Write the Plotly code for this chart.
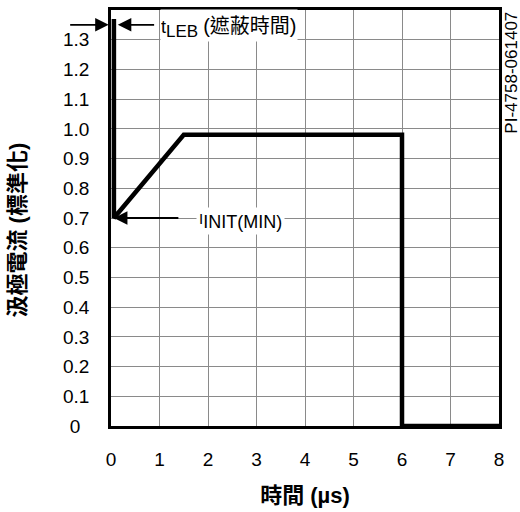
import plotly.graph_objects as go

# Data
time_us = [0.06, 0.06, 1.5, 6.0, 6.0, 8.0]
current_norm = [1.37, 0.70, 0.98, 0.98, 0.0, 0.0]

x_ticks = [0, 1, 2, 3, 4, 5, 6, 7, 8]
y_ticks = [0, 0.1, 0.2, 0.3, 0.4, 0.5, 0.6, 0.7, 0.8, 0.9, 1.0, 1.1, 1.2, 1.3]
y_tick_text = ["0\u00a0\u2009", "0.1", "0.2", "0.3", "0.4", "0.5", "0.6", "0.7", "0.8",
               "0.9", "1.0", "1.1", "1.2", "1.3"]

FONT = "Liberation Sans, Arial, Noto Sans CJK TC, sans-serif"
CJK = "Liberation Sans, Noto Sans CJK TC, sans-serif"

fig = go.Figure()
fig.add_trace(go.Scatter(x=time_us, y=current_norm, mode="lines",
                         line=dict(color="black", width=4.5),
                         hoverinfo="skip", showlegend=False, cliponaxis=False))

fig.update_layout(
    width=520, height=512,
    margin=dict(l=111, r=21, t=7, b=85),
    paper_bgcolor="white", plot_bgcolor="white",
    font=dict(family=FONT, color="black", size=19),
    xaxis=dict(range=[0, 8], tickvals=x_ticks, ticktext=[str(v) for v in x_ticks],
               showgrid=True, gridcolor="#8a8a8a", gridwidth=1,
               showline=True, linecolor="black", linewidth=2.5, mirror=True,
               ticks="", zeroline=False, ticklabelstandoff=14,
               tickfont=dict(size=19),
               title=dict(text="<b>時間 (µs)</b>", font=dict(family=CJK, size=22), standoff=20)),
    yaxis=dict(range=[0, 1.4], tickvals=y_ticks, ticktext=y_tick_text,
               showgrid=True, gridcolor="#8a8a8a", gridwidth=1,
               showline=True, linecolor="black", linewidth=2.5, mirror=True,
               ticks="", zeroline=False, ticklabelstandoff=15,
               tickfont=dict(size=19)),
)

# y title
fig.add_annotation(text="<b>汲極電流 (標準化)</b>", xref="paper", yref="paper",
                   x=-0.24, y=0.472, textangle=-90, showarrow=False,
                   xanchor="center", yanchor="middle",
                   font=dict(family=CJK, size=22))

# right side id text
fig.add_annotation(text="PI-4758-061407", xref="paper", yref="paper",
                   x=1.03, y=1.0, textangle=-90, showarrow=False,
                   xanchor="center", yanchor="top", font=dict(size=17))

# arrows for tLEB
fig.add_annotation(x=-0.006, y=1.35 / 1.4, ax=-40, ay=0,
                   xref="paper", yref="paper", text="", showarrow=True,
                   arrowhead=2, arrowsize=1.5, arrowwidth=1.8, arrowcolor="black")
fig.add_annotation(x=0.14, y=1.35, ax=0.92, ay=1.35, axref="x", ayref="y",
                   xref="x", yref="y", text="", showarrow=True,
                   arrowhead=2, arrowsize=1.5, arrowwidth=1.8, arrowcolor="black")
fig.add_annotation(x=1.0, y=1.348, xref="x", yref="y", showarrow=False,
                   xanchor="left", yanchor="middle", height=31, valign="bottom",
                   text="t<sub><span style='font-size:17px'>LEB</span></sub> "
                        "<span style='font-size:20px'>(遮蔽時間)</span>",
                   font=dict(family=CJK, size=18), bgcolor="white", borderpad=0)

# arrow for IINIT(MIN)
fig.add_annotation(x=0.06, y=0.70, ax=1.42, ay=0.70, axref="x", ayref="y",
                   xref="x", yref="y", text="", showarrow=True,
                   arrowhead=2, arrowsize=1.5, arrowwidth=1.8, arrowcolor="black")
fig.add_annotation(x=1.75, y=0.69, xref="x", yref="y", showarrow=False,
                   xanchor="left", yanchor="middle",
                   text="<span style='font-size:15px'>I</span>"
                        "<sub><span style='font-size:18px'>INIT(MIN)</span></sub>",
                   font=dict(size=17), bgcolor="white", borderpad=2)

fig.write_html("out.html", post_script="document.body.style.margin='0px';",
               config={"displayModeBar": False})
